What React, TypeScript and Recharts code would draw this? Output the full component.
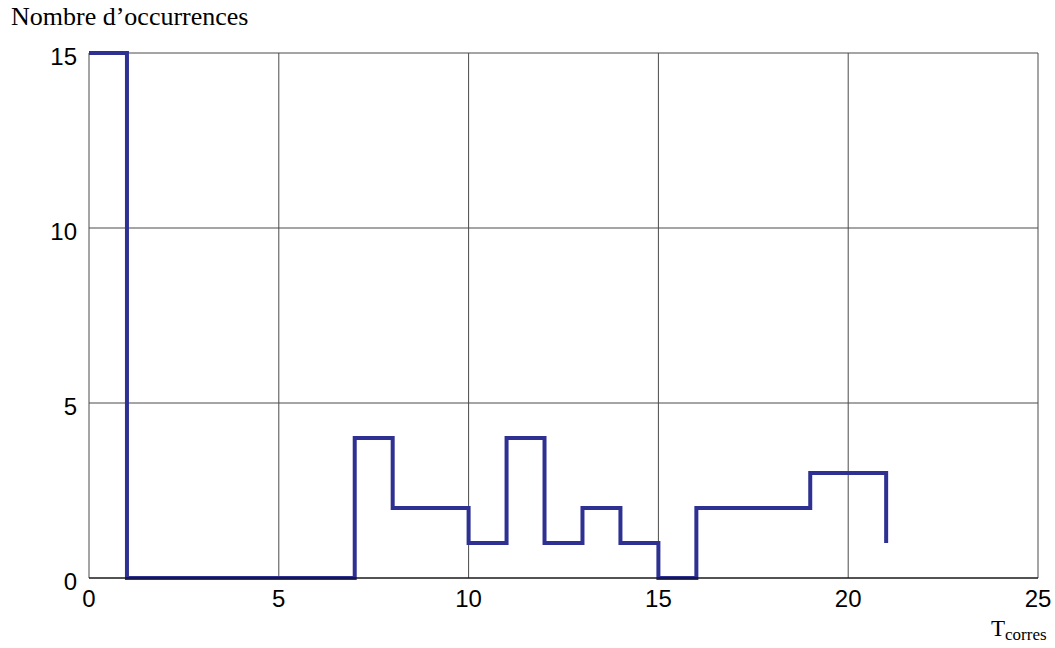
import { CartesianGrid, Line, LineChart, XAxis, YAxis } from "recharts";

// start of each bin (T) and the number of occurrences from there on
const tStarts = [0, 1, 7, 8, 10, 11, 12, 13, 14, 15, 16, 19, 21];
const counts = [15, 0, 4, 2, 1, 4, 1, 2, 1, 0, 2, 3, 1];

const xTicks = [0, 5, 10, 15, 20, 25];
const yTicks = [0, 5, 10, 15];

const data = tStarts.map((t, i) => ({ t, n: counts[i] }));

const FONT = "'Liberation Sans', Arial, sans-serif";
const SERIF = "'Liberation Serif', 'Times New Roman', serif";

const YTick = ({ x, y, payload }: any) => (
  <text x={x} y={y + 3} dy="0.36em" textAnchor="end" fontSize={24} fontFamily={FONT} fill="#000">
    {payload.value}
  </text>
);

const XTick = ({ x, y, payload }: any) => (
  <text x={x} y={y} dy="0.71em" textAnchor="middle" fontSize={24} fontFamily={FONT} fill="#000">
    {payload.value}
  </text>
);

const App = () => {
  return (
    <div style={{ position: "absolute", left: 0, top: 0, width: 1055, height: 648 }}>
      <LineChart
        width={1055}
        height={648}
        data={data}
        margin={{ top: 53, right: 17, bottom: 40, left: 29 }}
      >
        <CartesianGrid stroke="#4a4a4a" strokeWidth={1} fill="none" />
        <XAxis
          dataKey="t"
          type="number"
          domain={[0, 25]}
          ticks={xTicks}
          height={30}
          tickLine={false}
          tickSize={0}
          tickMargin={12}
          axisLine={{ stroke: "#000" }}
          tick={<XTick />}
        />
        <YAxis
          type="number"
          domain={[0, 15]}
          ticks={yTicks}
          width={60}
          tickLine={false}
          tickSize={0}
          tickMargin={12}
          axisLine={false}
          tick={<YTick />}
        />
        <Line
          type="stepAfter"
          dataKey="n"
          stroke="#2e3192"
          strokeWidth={4}
          dot={false}
          isAnimationActive={false}
        />
      </LineChart>
      <div
        style={{
          position: "absolute",
          left: 11,
          top: 4,
          fontFamily: SERIF,
          fontSize: 26,
          lineHeight: 1,
          whiteSpace: "nowrap",
        }}
      >
        Nombre d’occurrences
      </div>
      <div
        style={{
          position: "absolute",
          left: 991,
          top: 617,
          fontFamily: SERIF,
          fontSize: 23,
          lineHeight: 1,
          whiteSpace: "nowrap",
        }}
      >
        T<span style={{ fontSize: 17, position: "relative", top: 4 }}>corres</span>
      </div>
    </div>
  );
};

export default App;
